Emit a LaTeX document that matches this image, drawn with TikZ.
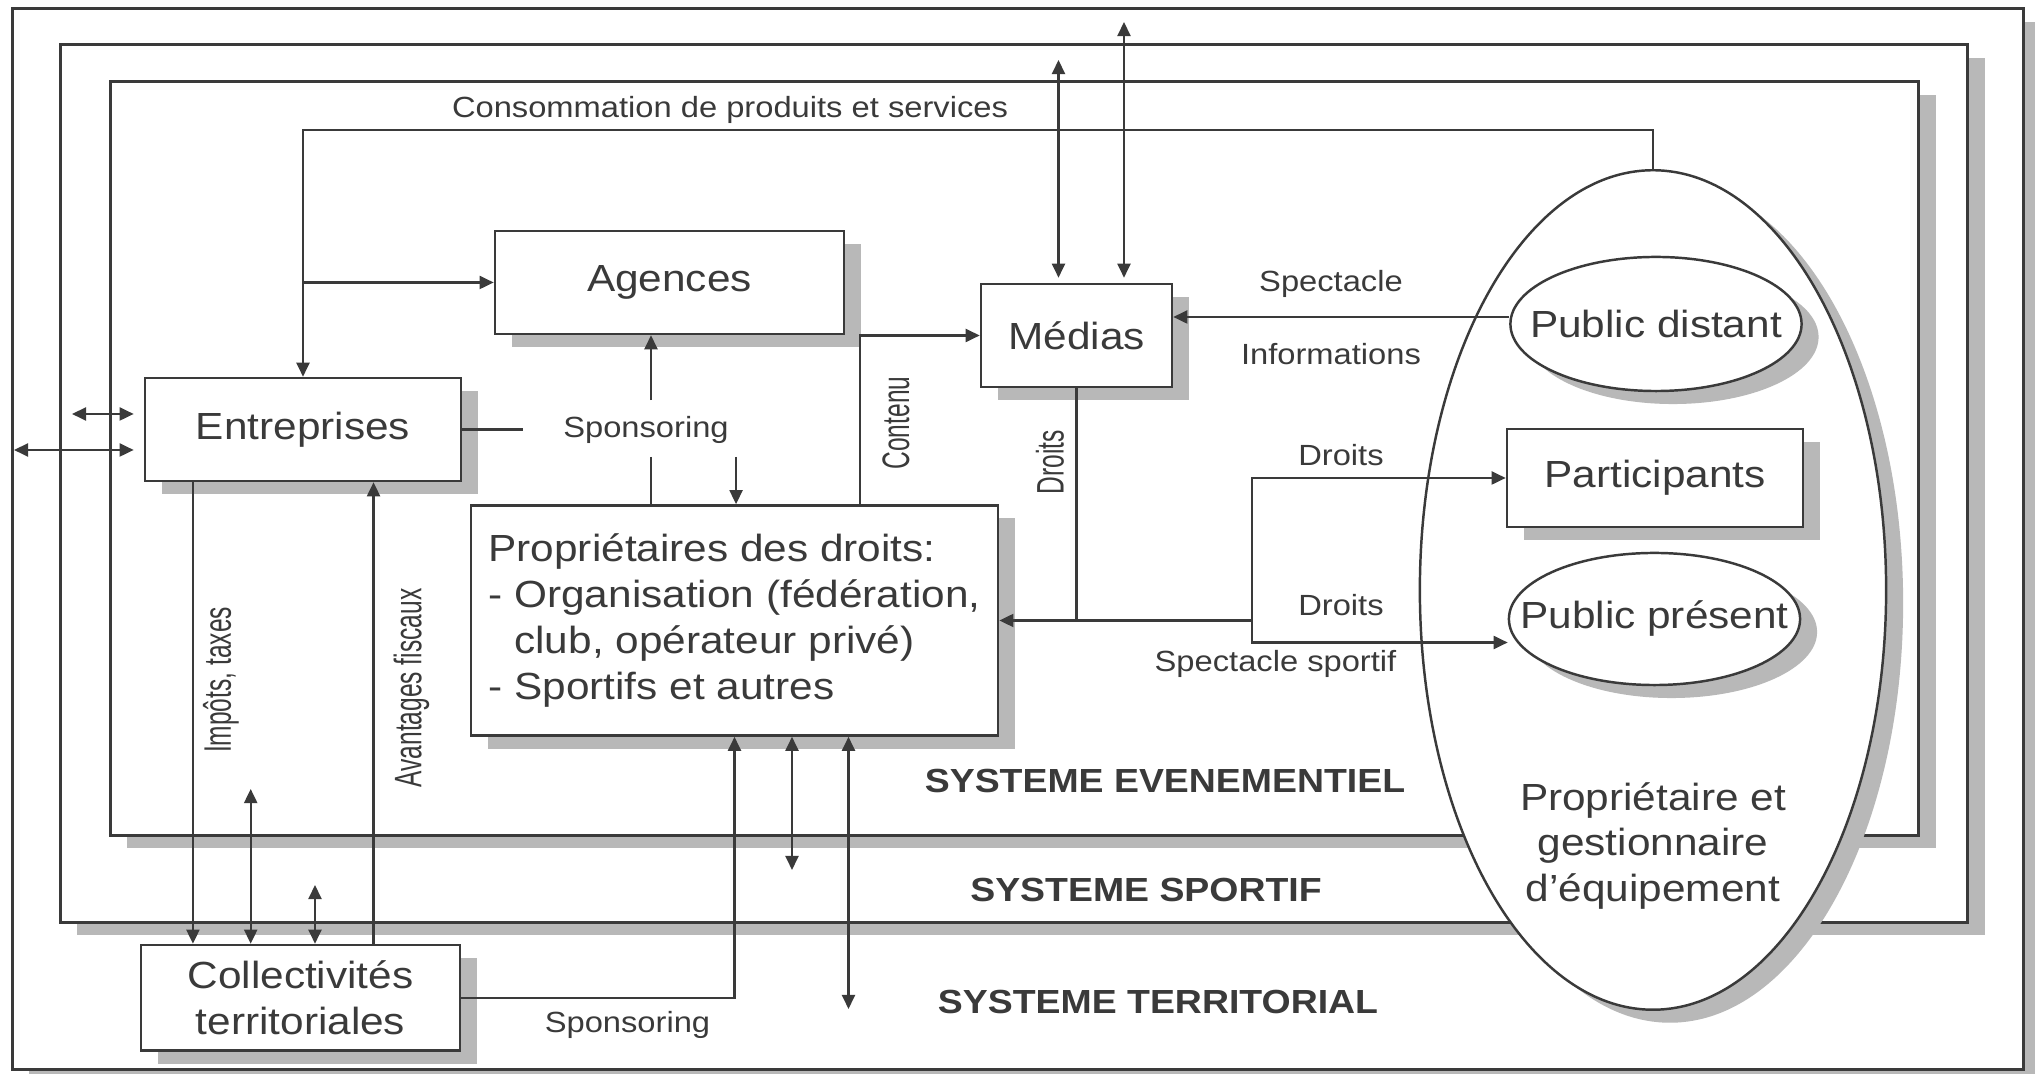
\documentclass[tikz,border=0pt]{standalone}
\usepackage{fontspec}
\setmainfont{Liberation Sans}[FakeStretch=1.12]
\newfontfamily\narrowfont{Liberation Sans}[FakeStretch=0.64]
\usetikzlibrary{arrows.meta,shapes.geometric,shadows}
\definecolor{ink}{HTML}{3A3A3A}
\definecolor{shade}{HTML}{B8B8B8}

\begin{document}
\begin{tikzpicture}[x=0.01cm,y=-0.01cm]
\tikzset{txt/.style = {text=ink,font=\fontsize{10.75}{13}\selectfont}}
\tikzset{shady/.style = {drop shadow={shadow xshift=0.17cm,shadow yshift=-0.13cm,fill=shade,opacity=1}}}
\tikzset{frame/.style = {draw=ink,fill=white,line width=0.8pt,shady}}
\tikzset{box/.style = {txt,draw=ink,fill=white,line width=0.7pt,shady}}
\tikzset{blob/.style = {box,ellipse,inner sep=0pt}}
\tikzset{lbl/.style = {text=ink,font=\fontsize{8.3}{10}\selectfont,inner sep=0pt}}
\tikzset{vlbl/.style = {text=ink,font=\narrowfont\fontsize{10.9}{12}\selectfont,rotate=90,inner sep=0pt}}
\tikzset{sys/.style = {text=ink,font=\bfseries\fontsize{9.5}{11}\selectfont}}
\tikzset{link/.style = {draw=ink,line width=0.6pt}}
\tikzset{flow/.style = {link,-{Triangle[length=4pt,width=3.7pt]}}}
\tikzset{both/.style = {link,{Triangle[length=4pt,width=3.7pt]}-{Triangle[length=4pt,width=3.7pt]}}}
\fill[white] (0,0) rectangle (2035,1074);
\useasboundingbox (0,0) rectangle (2035,1074);
% the three nested systems
\node[frame,minimum width=20.10cm,minimum height=10.60cm] (terr) at (1018,539) {};
\node[frame,minimum width=19.06cm,minimum height=8.77cm] (sport) at (1014,483.5) {};
\node[frame,minimum width=18.07cm,minimum height=7.53cm] (even) at (1014.5,458.5) {};
\node[sys] (sysE) at (1165,781) {SYSTEME EVENEMENTIEL};
\node[sys] (sysS) at (1146,890) {SYSTEME SPORTIF};
\node[sys] (sysT) at (1158,1002) {SYSTEME TERRITORIAL};
% equipment owner and the publics
\node[blob,minimum width=4.66cm,minimum height=8.39cm] (equip) at (1653,590) {};
\node[txt,align=center] (eqtxt) at (1653,846) {Propriétaire et\\gestionnaire\\d'équipement};
\node[blob,minimum width=2.91cm,minimum height=1.34cm,label={[txt]center:Public distant}] (pubd) at (1656,324) {};
\node[box,minimum width=2.96cm,minimum height=0.98cm] (partic) at (1655,478) {Participants};
\node[blob,minimum width=2.91cm,minimum height=1.32cm,label={[txt]center:Public présent}] (pubp) at (1654.5,619) {};
% actors
\node[box,minimum width=3.16cm,minimum height=1.03cm] (entr) at (303,429.5) {Entreprises};
\node[box,minimum width=3.49cm,minimum height=1.03cm] (agen) at (669.5,282.5) {Agences};
\node[box,minimum width=1.91cm,minimum height=1.03cm] (medias) at (1076.5,335.5) {Médias};
\node[box,align=left,minimum width=5.27cm,minimum height=2.30cm] (prop) at (734.5,620.5) {Propriétaires des droits:\\- Organisation (fédération,\\\phantom{- }club, opérateur privé)\\- Sportifs et autres};
\node[box,align=center,minimum width=3.19cm,minimum height=1.055cm] (coll) at (300.5,997.75) {Collectivités\\territoriales};
% exchanges of the firms with the outer systems
\coordinate (entS) at (72,414);
\coordinate (entT) at (14,450);
\draw[both,shorten >=0.1cm] (entS) -- (entS -| entr.west);
\draw[both,shorten >=0.1cm] (entT) -- (entT -| entr.west);
% consumption loop
\coordinate (cons) at (303,130);
\node[lbl] (conso) at (730,110) {Consommation de produits et services};
\draw[flow] (equip.north) |- (cons) -- (entr.north);
\draw[flow] (entr.north |- agen.west) -- (agen.west);
% sponsoring by the firms
\node[lbl] (sponsE) at (646,429.5) {Sponsoring};
\draw[link] (entr.east) -- ([xshift=-0.4cm]sponsE.west);
\draw[flow,shorten <=0.15cm] ([xshift=0.05cm]sponsE.north) -- ([xshift=0.05cm]sponsE.north |- agen.south);
\draw[link,shorten <=0.13cm] ([xshift=0.05cm]sponsE.south) -- ([xshift=0.05cm]sponsE.south |- prop.north);
\draw[flow,shorten <=0.13cm] ([xshift=0.9cm]sponsE.south) -- ([xshift=0.9cm]sponsE.south |- prop.north);
% content to the media
\node[vlbl] (contenu) at (896,423) {Contenu};
\draw[flow] ([xshift=-0.36cm]contenu.center |- prop.north) |- (medias.west);
\coordinate (medS) at (1058.5,60);
\coordinate (medT) at (1124,22);
\draw[both,shorten <=0.05cm] (medias.north -| medS) -- (medS);
\draw[both,shorten <=0.05cm] (medias.north -| medT) -- (medT);
% spectacle and information
\node[lbl] (spect) at (1331,284) {Spectacle};
\node[lbl] (info) at (1331,354.5) {Informations};
\draw[flow] ([yshift=0.07cm]pubd.west) -- ([yshift=0.07cm]pubd.west -| medias.east);
% rights
\node[vlbl] (droitsM) at (1050,462) {Droits};
\coordinate (dr) at (1252,620.5);
\draw[link] (medias.south) -- (medias.south |- dr);
\draw[flow] (dr) -- (prop.east);
\draw[flow] (dr) |- (partic.west);
\draw[flow] (dr) |- ([yshift=-0.235cm]pubp.west);
\node[lbl] (droitsP) at (1341,455) {Droits};
\node[lbl] (droitsT) at (1341,605) {Droits};
\node[lbl] (spectS) at (1275.5,664) {Spectacle sportif};
% local authorities
\node[vlbl] (imp) at (221,680) {Impôts, taxes};
\node[vlbl] (avant) at (411.5,688) {Avantages fiscaux};
\draw[flow] ([xshift=-1.1cm]entr.south) -- ([xshift=-1.1cm]entr.south |- coll.north);
\draw[flow] ([xshift=0.73cm]coll.north) -- ([xshift=0.73cm]coll.north |- entr.south);
\coordinate (colE) at (250.7,789);
\coordinate (colS) at (315,885);
\draw[both] (coll.north -| colE) -- (colE);
\draw[both] (coll.north -| colS) -- (colS);
\node[lbl] (sponsC) at (627.5,1024.5) {Sponsoring};
\draw[flow] (coll.east) -| (prop.south);
\coordinate (propS) at (792,870);
\coordinate (propT) at (848.5,1009);
\draw[both] (prop.south -| propS) -- (propS);
\draw[both] (prop.south -| propT) -- (propT);
\end{tikzpicture}
\end{document}
